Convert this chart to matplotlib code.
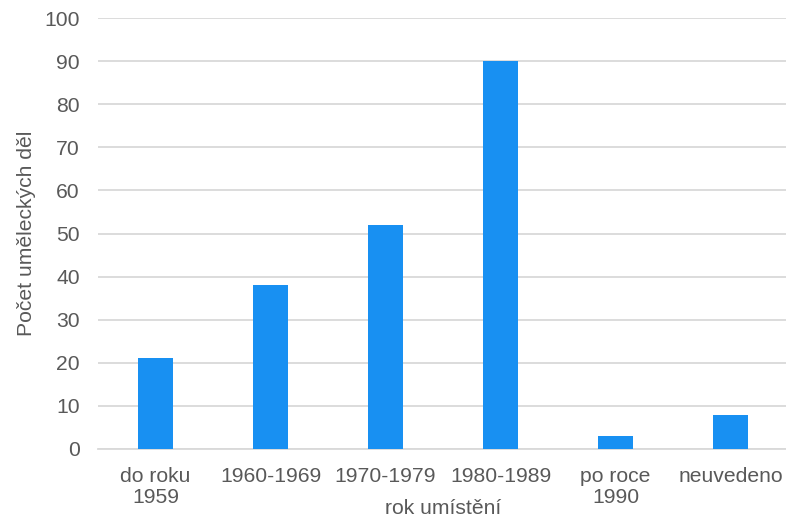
import matplotlib
matplotlib.use("Agg")
import matplotlib.pyplot as plt

categories = ["do roku\n1959", "1960-1969", "1970-1979", "1980-1989", "po roce\n1990", "neuvedeno"]
values = [21, 38, 52, 90, 3, 8]
yticks = list(range(0, 101, 10))

plt.rcParams['font.family'] = ['Liberation Sans', 'DejaVu Sans']
text_color = '#595959'
grid_color = '#d9d9d9'
bar_color = '#1890f2'
fs = 15.2

fig = plt.figure(figsize=(7.86, 5.21), dpi=100)
ax = fig.add_axes([98/786, 72/521, 690/786, 431/521])

x = list(range(len(categories)))
ax.bar(x, values, width=0.31, color=bar_color, zorder=3)
ax.set_xlim(-0.5, len(categories) - 0.5)
ax.set_ylim(0, 100)
ax.set_yticks(yticks)
ax.set_xticks(x)
ax.set_xticklabels(categories, linespacing=1.15)
ax.yaxis.grid(True, color=grid_color, linewidth=1.3, zorder=0)
ax.set_axisbelow(True)
for s in ['top', 'right', 'left']:
    ax.spines[s].set_visible(False)
ax.spines['bottom'].set_color(grid_color)
ax.spines['bottom'].set_linewidth(1.3)
ax.tick_params(axis='both', length=0, labelsize=fs, colors=text_color)
ax.tick_params(axis='y', pad=13)
ax.tick_params(axis='x', pad=13)
ax.set_ylabel("Počet uměleckých děl", fontsize=fs, color=text_color)
ax.yaxis.set_label_coords(-(98 - 36) / 690, 0.5)
fig.text(443/786, 3/521, "rok umístění", fontsize=fs, color=text_color,
         ha='center', va='bottom')

fig.savefig("out.png", dpi=100)
